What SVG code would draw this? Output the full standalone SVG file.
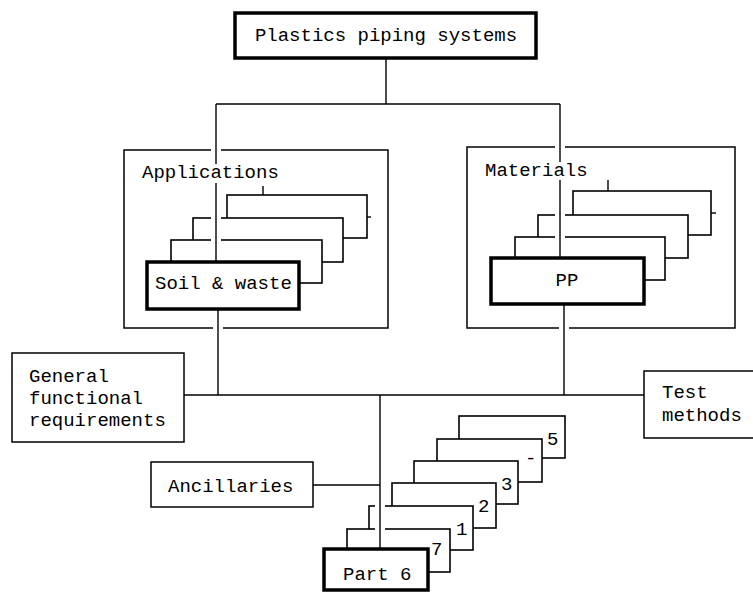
<svg xmlns="http://www.w3.org/2000/svg" width="753" height="594" viewBox="0 0 753 594">
<style>
.box{fill:#fff;stroke:#000;stroke-width:1.5}
.thick{fill:#fff;stroke:#000;stroke-width:3.5}
.card{fill:#fff;stroke:#000;stroke-width:1.6}
.ln{fill:none;stroke:#000;stroke-width:1.4}
.halo{fill:none;stroke:#fff;stroke-width:10}
text{font-family:"Liberation Mono","Courier New",monospace;font-size:19px;fill:#000}
</style>
<rect width="753" height="594" fill="#fff"/>

<g id="top">
<rect class="thick" x="235" y="13" width="301" height="45"/>
<text x="386" y="41" text-anchor="middle">Plastics piping systems</text>
</g>

<g id="applications">
<rect class="box" x="124" y="150" width="264" height="178"/>
<line class="ln" x1="263" y1="186" x2="263" y2="195"/>
<line class="ln" x1="367" y1="217" x2="371" y2="217"/>
<rect class="card" x="227" y="195" width="140" height="43"/>
<rect class="card" x="193" y="218" width="150" height="44"/>
<rect class="card" x="171" y="240" width="151" height="43"/>
</g>

<g id="materials">
<rect class="box" x="467" y="147" width="268" height="181"/>
<line class="ln" x1="608" y1="180" x2="608" y2="191"/>
<line class="ln" x1="711" y1="213" x2="716" y2="213"/>
<rect class="card" x="573" y="191" width="138" height="44"/>
<rect class="card" x="538" y="215" width="150" height="43"/>
<rect class="card" x="515" y="237" width="150" height="43"/>
</g>

<g id="general">
<rect class="box" x="12" y="353" width="172" height="89"/>
</g>
<g id="test">
<rect class="box" x="644" y="371" width="115" height="67"/>
</g>
<g id="ancillaries">
<rect class="box" x="151" y="462" width="162" height="45"/>
</g>

<g id="parts">
<rect class="card" x="459" y="416" width="106" height="42"/>
<rect class="card" x="437" y="439" width="105" height="43"/>
<rect class="card" x="414" y="461" width="104" height="43"/>
<rect class="card" x="392" y="483" width="104" height="45"/>
<rect class="card" x="369" y="506" width="104" height="44"/>
<rect class="card" x="347" y="529" width="103" height="43"/>
</g>

<g id="halos">
<line class="halo" x1="216" y1="140" x2="216" y2="259"/>
<line class="halo" x1="218" y1="313" x2="218" y2="336"/>
<line class="halo" x1="560" y1="137" x2="560" y2="255"/>
<line class="halo" x1="564" y1="310" x2="564" y2="336"/>
<line class="halo" x1="380" y1="400" x2="380" y2="546"/>
</g>

<g id="soil-waste">
<rect class="thick" x="147" y="262" width="152" height="47"/>
<text x="155" y="289">Soil &amp; waste</text>
</g>
<g id="pp">
<rect class="thick" x="491" y="258" width="153" height="46"/>
<text x="567" y="286" text-anchor="middle">PP</text>
</g>
<g id="part6">
<rect class="thick" x="324" y="549" width="104" height="41"/>
<text x="343" y="580">Part 6</text>
</g>

<g id="labels">
<text x="142" y="178">Applications</text>
<text x="485" y="176">Materials</text>
<text x="29" y="382">General</text>
<text x="29" y="404">functional</text>
<text x="29" y="426">requirements</text>
<text x="662" y="398">Test</text>
<text x="662" y="421">methods</text>
<text x="168" y="492">Ancillaries</text>
<text x="547" y="445">5</text>
<text x="525" y="464">-</text>
<text x="501" y="490">3</text>
<text x="478" y="512">2</text>
<text x="456" y="535">1</text>
<text x="431" y="555">7</text>
</g>

<g id="connectors">
<line class="ln" x1="386" y1="58" x2="386" y2="104"/>
<line class="ln" x1="216" y1="104" x2="560" y2="104"/>
<line class="ln" x1="216" y1="104" x2="216" y2="164"/>
<line class="ln" x1="216" y1="183" x2="216" y2="262"/>
<line class="ln" x1="560" y1="104" x2="560" y2="162"/>
<line class="ln" x1="560" y1="180" x2="560" y2="258"/>
<line class="ln" x1="218" y1="309" x2="218" y2="395"/>
<line class="ln" x1="564" y1="304" x2="564" y2="395"/>
<line class="ln" x1="184" y1="395" x2="644" y2="395"/>
<line class="ln" x1="380" y1="395" x2="380" y2="549"/>
<line class="ln" x1="313" y1="485" x2="380" y2="485"/>
</g>
</svg>
